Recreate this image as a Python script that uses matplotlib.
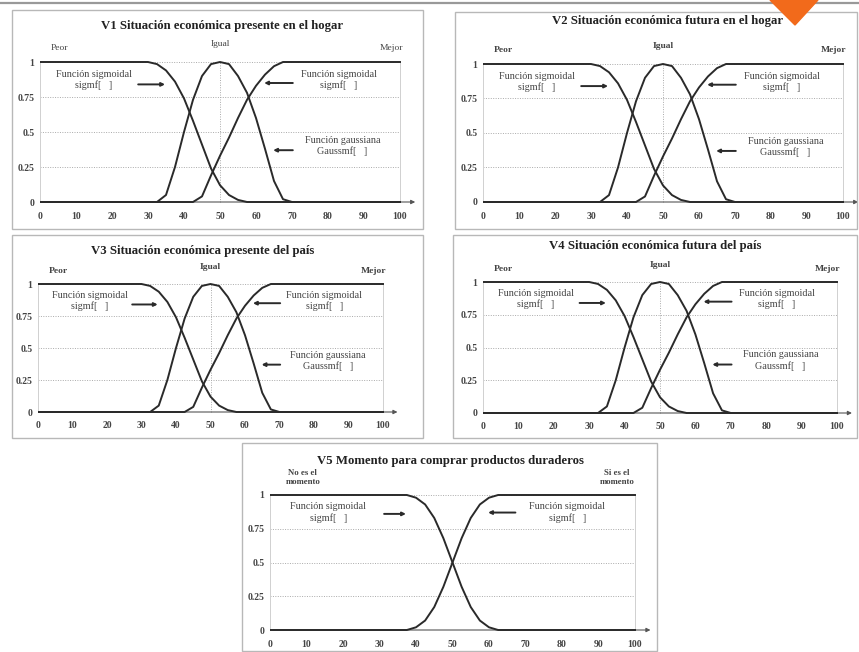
import matplotlib
matplotlib.use("Agg")
import matplotlib.pyplot as plt
from matplotlib.patches import Rectangle, Polygon
from matplotlib.lines import Line2D

plt.rcParams['font.family'] = ['Liberation Serif', 'DejaVu Serif']

W, H = 859, 652

# membership curves (V1 - V4 share the same shapes)
x_pts = [0, 30, 32.5, 35, 37.5, 40, 42.5, 45, 47.5, 50, 52.5, 55, 57.5, 60, 62.5, 65, 67.5, 70, 100]
sig_dec = [1, 1, 0.985, 0.94, 0.86, 0.74, 0.58, 0.41, 0.24, 0.12, 0.05, 0.015, 0, 0, 0, 0, 0, 0, 0]
gauss = [0, 0, 0, 0.05, 0.25, 0.5, 0.73, 0.9, 0.985, 1, 0.985, 0.9, 0.78, 0.6, 0.38, 0.15, 0.02, 0, 0]
sig_inc = [0, 0, 0, 0, 0, 0, 0, 0.04, 0.19, 0.33, 0.46, 0.6, 0.73, 0.83, 0.91, 0.97, 1, 1, 1]

# V5
x5 = [0, 37.5, 40, 42.5, 45, 47.5, 50, 52.5, 55, 57.5, 60, 62.5, 100]
dec5 = [1, 1, 0.98, 0.93, 0.83, 0.68, 0.5, 0.32, 0.17, 0.07, 0.02, 0, 0]
inc5 = [0, 0, 0.02, 0.07, 0.17, 0.32, 0.5, 0.68, 0.83, 0.93, 0.98, 1, 1]

titles = ["V1 Situación económica presente en el hogar",
          "V2 Situación económica futura en el hogar",
          "V3 Situación económica presente del país",
          "V4 Situación económica futura del país",
          "V5 Momento para comprar productos duraderos"]

xticks = [0, 10, 20, 30, 40, 50, 60, 70, 80, 90, 100]
yticks = [0, 0.25, 0.5, 0.75, 1]
ytick_labels = ["0", "0.25", "0.5", "0.75", "1"]

# pixel layout: (x at 0, x at 100, y at 1, y at 0), box, title centre
panels = [
    dict(p=(40, 400, 62, 202), box=(12, 10, 423, 229), t=(222, 26)),
    dict(p=(483, 843, 64, 202), box=(455, 12, 857, 229), t=(668, 21)),
    dict(p=(38, 383, 284, 412), box=(12, 235, 423, 438), t=(203, 251)),
    dict(p=(483, 837, 282, 413), box=(453, 235, 857, 438), t=(655, 246)),
    dict(p=(270, 635, 495, 630), box=(242, 443, 657, 651), t=(450, 461)),
]

fig = plt.figure(figsize=(W / 100, H / 100), dpi=100)
ink = "#2a2a2a"
tc = "#444444"
afs = 7.3


def fx(px):
    return px / W


def fy(py):
    return 1 - py / H


# top rule and orange marker
fig.add_artist(Line2D([0, 1], [fy(3), fy(3)], transform=fig.transFigure, color="#999999", lw=1.6))
fig.add_artist(Polygon([(fx(770), fy(0)), (fx(818), fy(0)), (fx(795), fy(25))],
                       closed=True, transform=fig.transFigure, color="#f26a1b", zorder=10))

for i, pn in enumerate(panels):
    bx0, by0, bx1, by1 = pn["box"]
    fig.add_artist(Rectangle((fx(bx0), fy(by1)), fx(bx1) - fx(bx0), fy(by0) - fy(by1),
                             transform=fig.transFigure, fill=False, ec="#b8b8b8", lw=1.0))
    fig.text(fx(pn["t"][0]), fy(pn["t"][1]), titles[i], ha="center", va="center",
             fontsize=9.2, fontweight="bold", color="#222222")

    px0, px100, py1, py0 = pn["p"]
    xlo, xhi, ylo, yhi = 0, 105, -0.03, 1.25
    sx = (px100 - px0) / 100
    sy = py0 - py1
    left = px0 + xlo * sx
    right = px0 + xhi * sx
    top = py1 - (yhi - 1) * sy
    bottom = py0 - ylo * sy
    ax = fig.add_axes([fx(left), fy(bottom), (right - left) / W, (bottom - top) / H])
    ax.set_xlim(xlo, xhi)
    ax.set_ylim(ylo, yhi)
    for s in ax.spines.values():
        s.set_visible(False)
    ax.set_xticks(xticks)
    ax.set_xticklabels([str(v) for v in xticks], fontsize=7, fontweight="bold", color=tc)
    ax.set_yticks(yticks)
    ax.set_yticklabels(ytick_labels, fontsize=7, fontweight="bold", color=tc)
    ax.tick_params(length=0, pad=4)
    for yv in yticks[1:]:
        ax.axhline(yv, xmin=0, xmax=100 / 105, color="#aaaaaa", lw=0.7, ls=(0, (1, 1.5)), zorder=1)
    ax.axvline(0, ymin=0.03 / 1.28, ymax=1.03 / 1.28, color="#d0d0d0", lw=0.7, zorder=1)
    ax.axvline(100, ymin=0.03 / 1.28, ymax=1.03 / 1.28, color="#d0d0d0", lw=0.7, zorder=1)
    ax.annotate("", xy=(105, 0), xytext=(0, 0),
                arrowprops=dict(arrowstyle="-|>", lw=0.8, color="#555555", mutation_scale=6))

    if i < 4:
        ax.axvline(50, ymin=0.03 / 1.28, ymax=1.03 / 1.28, color="#aaaaaa", lw=0.7,
                   ls=(0, (1, 1.5)), zorder=1)
        ax.plot(x_pts, sig_dec, color=ink, lw=1.4, zorder=3)
        ax.plot(x_pts, gauss, color=ink, lw=1.4, zorder=3)
        ax.plot(x_pts, sig_inc, color=ink, lw=1.4, zorder=3)
        wt = "normal" if i == 0 else "bold"
        ax.text(3, 1.1, "Peor", fontsize=6.8, fontweight=wt, color=tc, ha="left", va="center")
        ax.text(50, 1.13, "Igual", fontsize=6.8, fontweight=wt, color=tc, ha="center", va="center")
        ax.text(101, 1.1, "Mejor", fontsize=6.8, fontweight=wt, color=tc, ha="right", va="center")
        ax.text(15, 0.87, "Función sigmoidal\nsigmf[   ]", fontsize=afs, color=tc,
                ha="center", va="center", linespacing=1.2)
        ax.annotate("", xy=(35.5, 0.84), xytext=(26.5, 0.84),
                    arrowprops=dict(arrowstyle="-|>", lw=1.4, color=ink, mutation_scale=5))
        ax.text(83, 0.87, "Función sigmoidal\nsigmf[   ]", fontsize=afs, color=tc,
                ha="center", va="center", linespacing=1.2)
        ax.annotate("", xy=(61.5, 0.85), xytext=(71, 0.85),
                    arrowprops=dict(arrowstyle="-|>", lw=1.4, color=ink, mutation_scale=5))
        ax.text(84, 0.4, "Función gaussiana\nGaussmf[   ]", fontsize=afs, color=tc,
                ha="center", va="center", linespacing=1.2)
        ax.annotate("", xy=(64, 0.37), xytext=(71, 0.37),
                    arrowprops=dict(arrowstyle="-|>", lw=1.4, color=ink, mutation_scale=5))
    else:
        ax.plot(x5, dec5, color=ink, lw=1.4, zorder=3)
        ax.plot(x5, inc5, color=ink, lw=1.4, zorder=3)
        ax.text(9, 1.13, "No es el\nmomento", fontsize=6.3, fontweight="bold", color=tc,
                ha="center", va="center", linespacing=1.1)
        ax.text(95, 1.13, "Si es el\nmomento", fontsize=6.3, fontweight="bold", color=tc,
                ha="center", va="center", linespacing=1.1)
        ax.text(16, 0.87, "Función sigmoidal\nsigmf[   ]", fontsize=afs, color=tc,
                ha="center", va="center", linespacing=1.2)
        ax.annotate("", xy=(38, 0.86), xytext=(30.5, 0.86),
                    arrowprops=dict(arrowstyle="-|>", lw=1.4, color=ink, mutation_scale=5))
        ax.text(81.5, 0.87, "Función sigmoidal\nsigmf[   ]", fontsize=afs, color=tc,
                ha="center", va="center", linespacing=1.2)
        ax.annotate("", xy=(59, 0.87), xytext=(68, 0.87),
                    arrowprops=dict(arrowstyle="-|>", lw=1.4, color=ink, mutation_scale=5))

fig.savefig("out.png", dpi=100)
